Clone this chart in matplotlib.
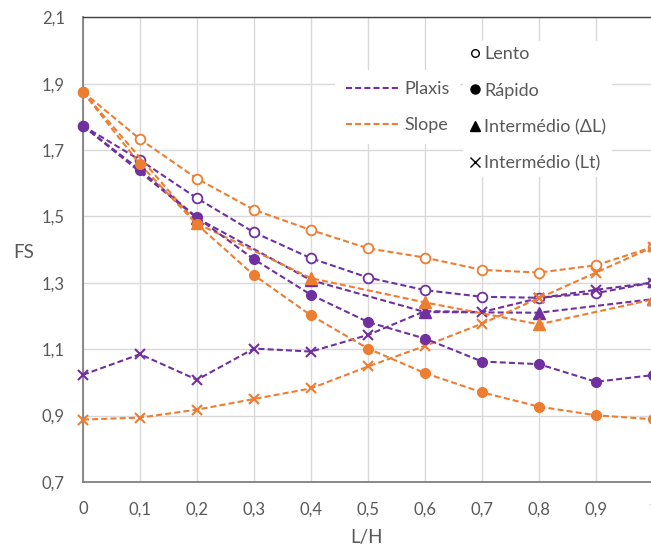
import matplotlib
matplotlib.use("Agg")
import matplotlib.pyplot as plt
from matplotlib.lines import Line2D
from matplotlib.ticker import FuncFormatter, FixedLocator

plt.rcParams['font.family'] = ['Lato', 'DejaVu Sans']

# ---- data ----
x = [0, 0.1, 0.2, 0.3, 0.4, 0.5, 0.6, 0.7, 0.8, 0.9, 1.0]
x_dl = [0, 0.2, 0.4, 0.6, 0.8, 1.0]

plaxis_lento = [1.773, 1.670, 1.555, 1.452, 1.374, 1.316, 1.278, 1.258, 1.255, 1.269, 1.301]
plaxis_rapido = [1.773, 1.640, 1.497, 1.371, 1.264, 1.182, 1.132, 1.063, 1.055, 1.002, 1.022]
plaxis_dl = [1.773, 1.495, 1.308, 1.212, 1.210, 1.251]
plaxis_lt = [1.023, 1.085, 1.008, 1.102, 1.093, 1.143, 1.215, 1.212, 1.254, 1.279, 1.301]

slope_lento = [1.875, 1.733, 1.614, 1.520, 1.459, 1.404, 1.376, 1.339, 1.331, 1.353, 1.408]
slope_rapido = [1.875, 1.657, 1.476, 1.323, 1.202, 1.102, 1.028, 0.970, 0.927, 0.901, 0.889]
slope_dl = [1.875, 1.479, 1.314, 1.241, 1.175, 1.250]
slope_lt = [0.888, 0.894, 0.918, 0.950, 0.982, 1.048, 1.110, 1.177, 1.254, 1.331, 1.408]

xticks = [0, 0.1, 0.2, 0.3, 0.4, 0.5, 0.6, 0.7, 0.8, 0.9, 1.0]
yticks = [0.7, 0.9, 1.1, 1.3, 1.5, 1.7, 1.9, 2.1]

PURPLE = '#7030A0'
ORANGE = '#ED7D31'
GRAY_TXT = '#595959'
DASH = (0, (2.9, 1.5))
LW = 1.5

fig = plt.figure(figsize=(6.51, 5.49), dpi=100)
ax = fig.add_axes([83 / 651, 1 - 482 / 549, 570 / 651, (482 - 17.3) / 549])

def fmt(v, pos=None):
    return ('%g' % round(v, 2)).replace('.', ',')

for col, lento, rapido, dl, lt in [
    (PURPLE, plaxis_lento, plaxis_rapido, plaxis_dl, plaxis_lt),
    (ORANGE, slope_lento, slope_rapido, slope_dl, slope_lt),
]:
    ax.plot(x, lento, color=col, lw=LW, ls=DASH, marker='o', ms=7,
            mfc='white', mec=col, mew=1.3, zorder=3, clip_on=False)
    ax.plot(x_dl, dl, color=col, lw=LW, ls=DASH, marker='^', ms=8,
            mfc=col, mec=col, markevery=slice(1, None), zorder=3, clip_on=False)
    ax.plot(x, lt, color=col, lw=LW, ls=DASH, marker='x', ms=7,
            mec=col, mew=1.5, zorder=3, clip_on=False)
    ax.plot(x, rapido, color=col, lw=LW, ls=DASH, marker='o', ms=7,
            mfc=col, mec=col, zorder=4, clip_on=False)

ax.set_xlim(0, 1)
ax.set_ylim(0.7, 2.1)
ax.xaxis.set_major_locator(FixedLocator(xticks))
ax.yaxis.set_major_locator(FixedLocator(yticks))
ax.xaxis.set_major_formatter(FuncFormatter(fmt))
ax.yaxis.set_major_formatter(FuncFormatter(fmt))
ax.tick_params(axis='both', length=0, labelsize=12, colors=GRAY_TXT)
ax.tick_params(axis='y', pad=13)
ax.tick_params(axis='x', pad=14)

ax.grid(True, color='#d9d9d9', lw=1.0)
ax.set_axisbelow(True)
ax.spines['right'].set_visible(False)
ax.spines['left'].set_color('#808080')
ax.spines['left'].set_linewidth(1.3)
ax.spines['bottom'].set_color('#808080')
ax.spines['bottom'].set_linewidth(1.3)
ax.spines['top'].set_color('#404040')
ax.spines['top'].set_linewidth(1.0)

fig.text(23.5 / 651, 1 - 252 / 549, 'FS', ha='center', va='center',
         fontsize=13.5, color=GRAY_TXT)
fig.text(367 / 651, 1 - 538 / 549, 'L/H', ha='center', va='center',
         fontsize=13.5, color=GRAY_TXT)

FS_LEG = 13

# legend 1: software
h1 = [Line2D([], [], color=PURPLE, lw=LW, ls=DASH),
      Line2D([], [], color=ORANGE, lw=LW, ls=DASH)]
leg1 = ax.legend(h1, ['Plaxis', 'Slope'], loc='upper left',
                 bbox_to_anchor=(335 / 651, 1 - 70 / 549), bbox_transform=fig.transFigure,
                 frameon=True, fancybox=False, facecolor='white', edgecolor='none',
                 framealpha=1, fontsize=FS_LEG, handlelength=2.9, handletextpad=0.33,
                 labelspacing=1.12, borderpad=0.6, borderaxespad=0, labelcolor=GRAY_TXT)
leg1.set_zorder(6)
ax.add_artist(leg1)

# legend 2: markers
h2 = [Line2D([], [], ls='none', marker='o', ms=5.5, mfc='white', mec='black', mew=1.0),
      Line2D([], [], ls='none', marker='o', ms=6.5, mfc='black', mec='black'),
      Line2D([], [], ls='none', marker='^', ms=6.5, mfc='black', mec='black'),
      Line2D([], [], ls='none', marker='x', ms=6.5, mec='black', mew=1.0)]
leg2 = ax.legend(h2, ['Lento', 'Rápido', 'Intermédio (ΔL)', 'Intermédio (Lt)'],
                 loc='upper left', bbox_to_anchor=(463 / 651, 1 - 41 / 549),
                 bbox_transform=fig.transFigure, frameon=True, fancybox=False,
                 facecolor='white', edgecolor='none', framealpha=1, fontsize=FS_LEG,
                 handlelength=0.7, handletextpad=0.17, labelspacing=1.12,
                 borderpad=0.3, borderaxespad=0, labelcolor=GRAY_TXT)
leg2.set_zorder(6)

fig.savefig('out.png', dpi=100)
